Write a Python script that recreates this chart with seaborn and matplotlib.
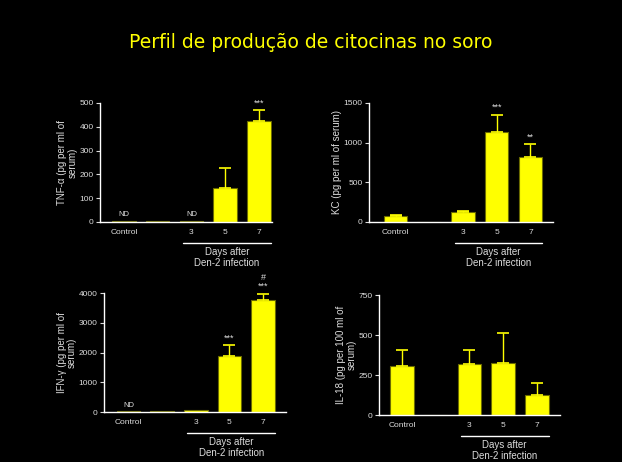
import numpy as np
import pandas as pd
import matplotlib
matplotlib.use("Agg")
import matplotlib.pyplot as plt
import seaborn as sns

# Dados (média e barra de erro superior)
categorias = ["Control", " ", "3", "5", "7"]

tnf_media = [4, 4, 4, 143, 424]
tnf_erro = [0, 0, 0, 82, 45]
tnf_marcas = ["ND", "", "ND", "", "***"]

kc_media = [76, 0, 126, 1139, 824]
kc_erro = [8, 0, 13, 210, 155]
kc_marcas = ["", "", "", "***", "**"]

ifn_media = [20, 20, 78, 1894, 3765]
ifn_erro = [0, 0, 0, 347, 213]
ifn_marcas = ["ND", "", "", "***", "#\n***"]

il18_media = [308, 0, 321, 325, 125]
il18_erro = [100, 0, 83, 187, 73]
il18_marcas = ["", "", "", "", ""]

titulo = "Perfil de produção de citocinas no soro"

sns.set_style("dark")
plt.rcParams["font.family"] = ["Liberation Sans", "DejaVu Sans"]

AMARELO = "#ffff00"
OLIVA = "#6b6b00"
CINZA = "#dcdcdc"

fig = plt.figure(figsize=(6.22, 4.62), dpi=100)
fig.patch.set_facecolor("black")

paineis = [
    # media, erro, marcas, yticks, ylabel, rect, xlim
    (tnf_media, tnf_erro, tnf_marcas, [0, 100, 200, 300, 400, 500],
     "TNF-\u03b1 (pg per ml of\nserum)", [0.1608, 0.5195, 0.2765, 0.2576], (-0.71, 4.39)),
    (kc_media, kc_erro, kc_marcas, [0, 500, 1000, 1500],
     "KC (pg per ml of serum)", [0.5932, 0.5195, 0.2958, 0.2576], (-0.79, 4.67)),
    (ifn_media, ifn_erro, ifn_marcas, [0, 1000, 2000, 3000, 4000],
     "IFN-\u03b3 (pg per ml of\nserum)", [0.1672, 0.1082, 0.2926, 0.2576], (-0.73, 4.68)),
    (il18_media, il18_erro, il18_marcas, [0, 250, 500, 750],
     "IL-18 (pg per 100 ml of\nserum)", [0.6093, 0.1017, 0.2910, 0.2597], (-0.68, 4.69)),
]

for media, erro, marcas, yticks, ylabel, rect, xlim in paineis:
    ax = fig.add_axes(rect)
    ax.set_facecolor("black")
    df = pd.DataFrame({"dia": categorias, "valor": media})
    sns.barplot(data=df, x="dia", y="valor", order=categorias, color=AMARELO,
                saturation=1, width=0.7, edgecolor=OLIVA, linewidth=0.8,
                errorbar=None, ax=ax)

    pos = np.arange(len(categorias))
    media = np.array(media, dtype=float)
    erro = np.array(erro, dtype=float)
    m = erro > 0
    ax.errorbar(pos[m], media[m], yerr=[np.zeros(m.sum()), erro[m]], fmt="none",
                ecolor=AMARELO, elinewidth=1.0, capsize=4, capthick=1.2, zorder=1)

    for x, y, e, txt in zip(pos, media, erro, marcas):
        if txt:
            tam = 5.5 if txt == "ND" else 6.5
            ax.annotate(txt, (x, y + e), xytext=(0, 2), textcoords="offset points",
                        ha="center", va="bottom", fontsize=tam, color=CINZA,
                        linespacing=1.0)

    ax.set_xlim(*xlim)
    ax.set_ylim(0, yticks[-1])
    ax.set_yticks(yticks)
    ax.set_xlabel("")
    ax.set_ylabel(ylabel, color=CINZA, fontsize=7, linespacing=1.0, labelpad=1.5)
    ax.tick_params(axis="x", length=0, colors=CINZA, labelsize=6, pad=5)
    ax.tick_params(axis="y", length=3, width=0.8, colors=CINZA, labelsize=6,
                   direction="out", left=True, pad=1.5)
    for lado in ["top", "right"]:
        ax.spines[lado].set_visible(False)
    for lado in ["left", "bottom"]:
        ax.spines[lado].set_visible(True)
        ax.spines[lado].set_color("white")
        ax.spines[lado].set_linewidth(1.0)
    ax.grid(False)

    # "Days after / Den-2 infection" com linha
    h_px = rect[3] * 462
    trans = ax.get_xaxis_transform()
    ax.plot([1.75, 4.35], [-21 / h_px] * 2, color="white", lw=1.0,
            transform=trans, clip_on=False)
    ax.text(3.05, -35.5 / h_px, "Days after\nDen-2 infection", transform=trans,
            ha="center", va="center", fontsize=7, color=CINZA, linespacing=1.15)

fig.text(0.5, 1 - 42 / 462, titulo, ha="center", va="center", fontsize=13.5,
         color=AMARELO, family=["DejaVu Sans"])

fig.savefig("out.png", dpi=100, facecolor="black")
